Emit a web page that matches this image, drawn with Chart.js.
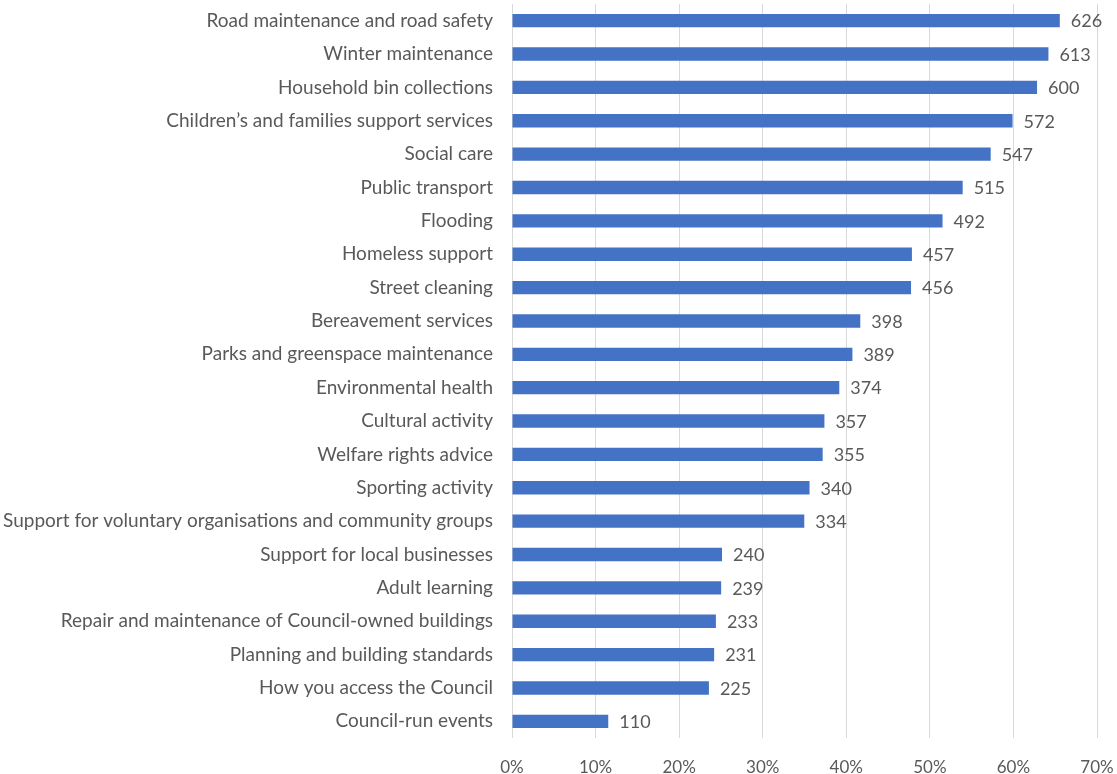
<!DOCTYPE html>
<html>
<head>
<meta charset="utf-8">
<title>Council services</title>
<script src="https://cdn.jsdelivr.net/npm/chart.js@4/dist/chart.umd.min.js"></script>
<style>
  html, body { margin: 0; padding: 0; background: #fff; }
  #wrap { position: relative; width: 1117px; height: 774px; }
</style>
</head>
<body>
<div id="wrap"><canvas id="servicesChart"></canvas></div>
<script>
// Services and number of respondents choosing each
const services = [
  'Road maintenance and road safety',
  'Winter maintenance',
  'Household bin collections',
  'Children\u2019s and families support services',
  'Social care',
  'Public transport',
  'Flooding',
  'Homeless support',
  'Street cleaning',
  'Bereavement services',
  'Parks and greenspace maintenance',
  'Environmental health',
  'Cultural activity',
  'Welfare rights advice',
  'Sporting activity',
  'Support for voluntary organisations and community groups',
  'Support for local businesses',
  'Adult learning',
  'Repair and maintenance of Council-owned buildings',
  'Planning and building standards',
  'How you access the Council',
  'Council-run events'
];
const responses = [626, 613, 600, 572, 547, 515, 492, 457, 456, 398, 389, 374, 357, 355, 340, 334, 240, 239, 233, 231, 225, 110];
const totalRespondents = 955;
const xTicks = [0, 10, 20, 30, 40, 50, 60, 70];

// bar length is the share of all respondents
const shares = responses.map(n => n / totalRespondents * 100);

const textColor = '#595959';
const fontFamily = 'Lato, "Open Sans", sans-serif';

// writes the response count to the right of each bar
const countLabels = {
  id: 'countLabels',
  afterDatasetsDraw(chart) {
    const ctx = chart.ctx;
    const meta = chart.getDatasetMeta(0);
    ctx.save();
    ctx.fillStyle = textColor;
    ctx.font = '18px ' + fontFamily;
    ctx.textAlign = 'left';
    ctx.textBaseline = 'middle';
    meta.data.forEach((bar, i) => {
      ctx.fillText(String(responses[i]), bar.x + 11, bar.y + 1);
    });
    ctx.restore();
  }
};

// keep the plot area fixed, without extra room for overhanging labels
function noOverhang(scale) {
  scale.paddingTop = 0;
  scale.paddingBottom = 0;
  scale.paddingLeft = 0;
  scale.paddingRight = 0;
}

new Chart(document.getElementById('servicesChart'), {
  type: 'bar',
  data: {
    labels: services,
    datasets: [{
      data: shares,
      backgroundColor: '#4472C4',
      borderWidth: 0,
      barPercentage: 0.4,
      categoryPercentage: 1
    }]
  },
  options: {
    indexAxis: 'y',
    responsive: true,
    maintainAspectRatio: false,
    animation: false,
    layout: { padding: { top: 4, right: 20, left: 0, bottom: 0 } },
    plugins: {
      legend: { display: false },
      tooltip: { enabled: false }
    },
    scales: {
      x: {
        min: 0,
        max: 70,
        afterBuildTicks(scale) {
          scale.ticks = xTicks.map(v => ({ value: v }));
        },
        afterFit(scale) {
          scale.height = 36;
          noOverhang(scale);
        },
        grid: { color: '#d9d9d9', lineWidth: 1, drawTicks: false },
        border: { display: false },
        ticks: {
          color: textColor,
          font: { family: fontFamily, size: 17 },
          padding: 19,
          callback: v => v + '%'
        }
      },
      y: {
        afterFit(scale) {
          scale.width = 512;
          noOverhang(scale);
        },
        grid: { display: false, drawTicks: false },
        border: { display: false },
        ticks: {
          color: textColor,
          font: { family: fontFamily, size: 19 },
          padding: 19,
          autoSkip: false
        }
      }
    }
  },
  plugins: [countLabels]
});
</script>
</body>
</html>
